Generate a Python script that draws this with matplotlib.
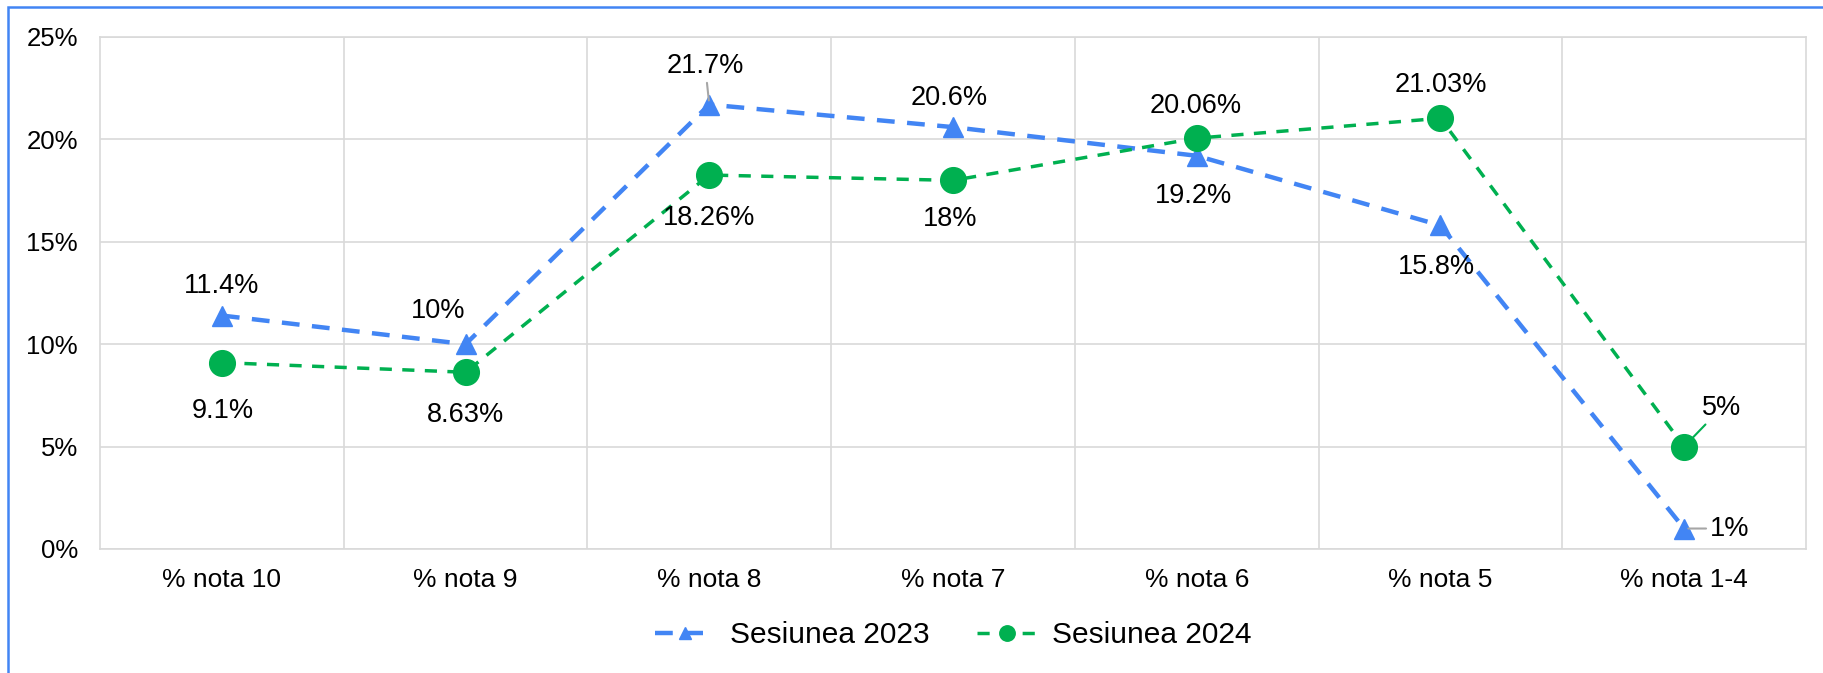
import matplotlib
matplotlib.use('Agg')
from matplotlib import pyplot as plt
from matplotlib.patches import Rectangle
from matplotlib.ticker import MultipleLocator, FixedLocator, FuncFormatter

plt.rcParams['font.family'] = ['Liberation Sans', 'DejaVu Sans']

categories = ['% nota 10', '% nota 9', '% nota 8', '% nota 7', '% nota 6', '% nota 5', '% nota 1-4']
vals_2023 = [11.4, 10, 21.7, 20.6, 19.2, 15.8, 1]
vals_2024 = [9.1, 8.63, 18.26, 18, 20.06, 21.03, 5]
labels_2023 = ['11.4%', '10%', '21.7%', '20.6%', '19.2%', '15.8%', '1%']
labels_2024 = ['9.1%', '8.63%', '18.26%', '18%', '20.06%', '21.03%', '5%']

# label offsets in points (dx, dy), from the marker
off_2023 = [(0, 21), (-20, 24), (-3, 28), (-3, 21), (-2, -29), (-3, -30), (33, 0)]
off_2024 = [(1, -35), (0, -31), (0, -31), (-2, -28), (-1, 23), (0, 24), (27, 28)]
leader_2023 = [False, False, True, False, False, False, True]
leader_2024 = [False, False, False, False, False, False, True]

blue = '#4285F4'
green = '#00B050'
grid_col = '#D9D9D9'
fs = 19.5

fig = plt.figure(figsize=(18.24, 6.73), dpi=100)
ax = fig.add_axes([100 / 1824, 1 - 549 / 673, 1706 / 1824, 512 / 673])

x = list(range(len(categories)))
ax.plot(x, vals_2023, color=blue, linestyle=(0, (4, 2.8)), linewidth=3.2,
        marker='^', markersize=15, label='Sesiunea 2023', zorder=3)
ax.plot(x, vals_2024, color=green, linestyle=(0, (3.5, 3)), linewidth=2.5,
        marker='o', markersize=18.5, label='Sesiunea 2024', zorder=3)

for xi, v, t, o, ld in zip(x, vals_2023, labels_2023, off_2023, leader_2023):
    ax.annotate(t, (xi, v), xytext=o, textcoords='offset points', ha='center', va='center',
                fontsize=fs, color='black', zorder=5,
                arrowprops=dict(arrowstyle='-', color='#A6A6A6', lw=1.5, shrinkA=1, shrinkB=3) if ld else None)
for xi, v, t, o, ld in zip(x, vals_2024, labels_2024, off_2024, leader_2024):
    ax.annotate(t, (xi, v), xytext=o, textcoords='offset points', ha='center', va='center',
                fontsize=fs, color='black', zorder=5,
                arrowprops=dict(arrowstyle='-', color=green, lw=1.5, shrinkA=1, shrinkB=6) if ld else None)

ax.set_xlim(-0.5, len(categories) - 0.5)
ax.set_ylim(0, 25)
ax.set_xticks(x)
ax.set_xticklabels(categories)
ax.xaxis.set_minor_locator(FixedLocator([i + 0.5 for i in range(len(categories) - 1)]))
ax.yaxis.set_major_locator(MultipleLocator(5))
ax.yaxis.set_major_formatter(FuncFormatter(lambda v, p: '%d%%' % v))
ax.tick_params(axis='both', which='both', length=0)
ax.tick_params(axis='y', pad=16, labelsize=18.5)
ax.tick_params(axis='x', pad=14, labelsize=19)
ax.grid(axis='y', which='major', color=grid_col, linewidth=1.2)
ax.grid(axis='x', which='minor', color=grid_col, linewidth=1.2)
ax.set_axisbelow(True)
for s in ax.spines.values():
    s.set_color(grid_col)
    s.set_linewidth(1.2)

leg = fig.legend(loc='center', bbox_to_anchor=(953 / 1824, 1 - 635 / 673), ncol=2, frameon=False,
                 fontsize=21.5, handlelength=2.0, columnspacing=1.6, markerscale=0.6, handletextpad=0.5)

# outer chart border (only top and left visible)
fig.patches.append(Rectangle((8 / 1824, -0.1), 1.2, 1 - 7 / 673 + 0.1, transform=fig.transFigure,
                             fill=False, edgecolor=blue, linewidth=1.8))

fig.savefig('out.png', dpi=100)
